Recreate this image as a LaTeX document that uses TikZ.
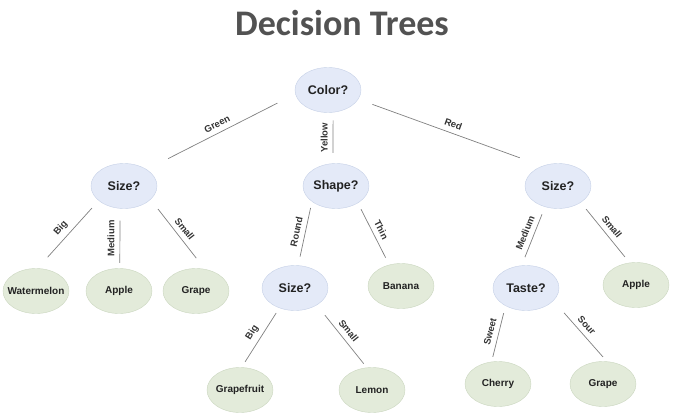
\documentclass[tikz,border=0pt]{standalone}
\usepackage{fontspec}
\setmainfont{Liberation Sans}
\newfontfamily\titlefont{Carlito}
\usepackage{tikz}
\usetikzlibrary{shapes.geometric}
\definecolor{askfill}{HTML}{E4EAF8}
\definecolor{askline}{HTML}{C5D0E6}
\definecolor{leaffill}{HTML}{E3EBDA}
\definecolor{leafline}{HTML}{CAD6BF}
\definecolor{ink}{HTML}{222222}
\tikzset{
    ask/.style={draw=askline, fill=askfill, ellipse, minimum width=66pt, minimum height=45pt,
        inner xsep=-6pt, inner ysep=0pt, text=ink, font=\fontsize{12.5}{14}\selectfont\bfseries},
    leaf/.style={draw=leafline, fill=leaffill, ellipse, minimum width=66pt, minimum height=45pt,
        inner xsep=-6pt, inner ysep=0pt, text=ink, font=\fontsize{10}{12}\selectfont\bfseries},
    branch/.style 2 args={draw=black!50, line width=0.7pt, shorten <=#1, shorten >=#2},
    tag/.style={midway, sloped, above, inner sep=5pt, text=black!80, font=\fontsize{9.5}{11}\selectfont\bfseries},
    vtag/.style={midway, rotate=90, above, inner sep=5pt, text=black!80, font=\fontsize{9.5}{11}\selectfont\bfseries},
}

\begin{document}
\begin{tikzpicture}[x=1pt, y=-1pt]
    \useasboundingbox (0,0) rectangle (677,420);
    \node[anchor=base, text=black!68, font=\titlefont\fontsize{36}{40}\selectfont\bfseries] (title) at (342,36) {Decision Trees};

    % questions
    \node[ask] (color) at (328,90) {Color?};
    \node[ask] (sizeA) at (124,186) {Size?};
    \node[ask] (shape) at (336,186) {Shape?};
    \node[ask] (sizeB) at (558,186) {Size?};
    \node[ask] (sizeC) at (295,288) {Size?};
    \node[ask] (taste) at (526,288) {Taste?};

    % answers
    \node[leaf] (water) at (36,291) {Watermelon};
    \node[leaf] (appleA) at (119,291) {Apple};
    \node[leaf] (grapeA) at (196,291) {Grape};
    \node[leaf] (banana) at (401,286) {Banana};
    \node[leaf] (appleB) at (636,285) {Apple};
    \node[leaf] (grapefruit) at (240,390) {Grapefruit};
    \node[leaf] (lemon) at (372,390) {Lemon};
    \node[leaf] (cherry) at (498,384) {Cherry};
    \node[leaf] (grapeB) at (603,384) {Grape};

    \draw[branch={20pt}{24pt}] (color.187) -- node[tag] {Green} (sizeA.36);
    \draw[branch={8pt}{10.5pt}] (color.283) -- node[vtag] {Yellow} (shape.98);
    \draw[branch={15pt}{24pt}] (color.343) -- node[tag] {Red} (sizeB.128);

    \draw[branch={10pt}{15pt}] (sizeA.210) -- node[tag] {Big} (water.86);
    \draw[branch={12pt}{5.5pt}] (sizeA.260) -- node[vtag] {Medium} (appleA.88);
    \draw[branch={12pt}{14pt}] (sizeA.333) -- node[tag] {Small} (grapeA.68);

    \draw[branch={6.5pt}{9pt}] (shape.213) -- node[tag] {Round} (sizeC.82);
    \draw[branch={7pt}{8pt}] (shape.322) -- node[tag] {Thin} (banana.119);

    \draw[branch={6pt}{6.5pt}] (sizeC.232) -- node[tag] {Big} (grapefruit.86);
    \draw[branch={13pt}{5pt}] (sizeC.322) -- node[tag] {Small} (lemon.103);

    \draw[branch={8pt}{9pt}] (sizeB.238) -- node[tag] {Medium} (taste.101);
    \draw[branch={8.5pt}{7.5pt}] (sizeB.324) -- node[tag] {Small} (appleB.106);

    \draw[branch={7.5pt}{5pt}] (taste.221) -- node[tag] {Sweet} (cherry.106);
    \draw[branch={16pt}{6pt}] (taste.335) -- node[tag] {Sour} (grapeB.80);
\end{tikzpicture}
\end{document}
